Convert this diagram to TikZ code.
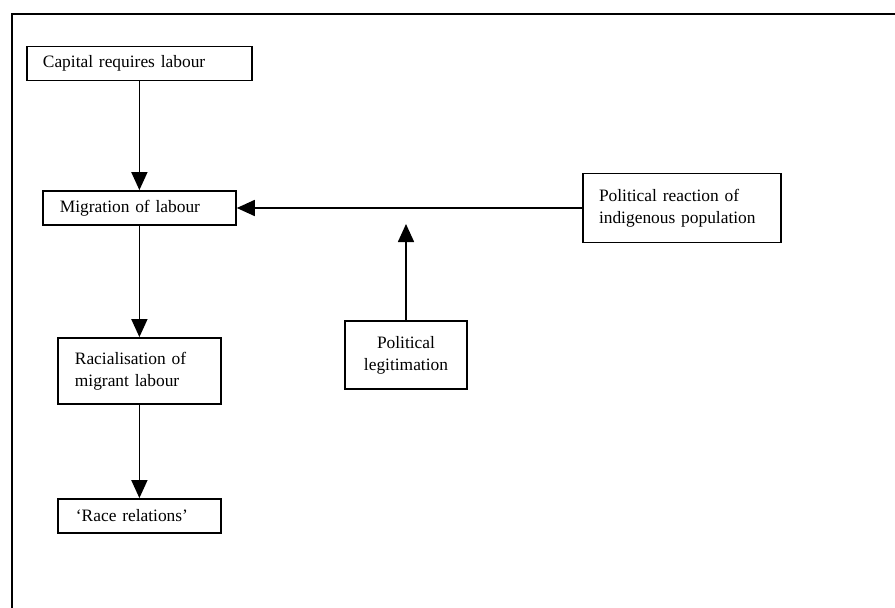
\documentclass[tikz,border=0pt]{standalone}
\usepackage{fontspec}
\setmainfont{Liberation Serif}
\usetikzlibrary{arrows.meta}
\begin{document}
\begin{tikzpicture}[x=1pt,y=-1pt,
  box/.style={draw, line width=1.8pt, rectangle, inner ysep=0pt,
    font=\fontsize{17.4}{22}\selectfont},
  lbox/.style={box, align=left},
  flow/.style={line width=1.6pt, -{Triangle[length=18pt,width=16pt]}}]
\useasboundingbox (0,0) rectangle (895,608);
% page frame: top and left edges only
\draw[line width=2pt] (895,14) -- (11.5,14) -- (11.5,608);

% boxes
\node[lbox, text width=193pt, inner xsep=16pt, minimum height=34pt] (cap) at (139.4,63.5) {Capital requires labour};
\node[lbox, text width=159pt, inner xsep=17pt, minimum height=34pt] (mig) at (139.4,208) {Migration of labour};
\node[lbox, text width=129pt, inner xsep=17pt, minimum height=66pt] (rac) at (139.4,371) {Racialisation of\\migrant labour};
\node[lbox, text width=127pt, inner xsep=18pt, minimum height=34pt] (race) at (139.4,516) {‘Race relations’};
\node[lbox, text width=166pt, inner xsep=16pt, minimum height=69pt] (pol) at (682,208) {Political reaction of\\indigenous population};
\node[box, align=center, minimum width=122pt, minimum height=68pt] (leg) at (406,355) {Political\\legitimation};

% connectors
\coordinate (legtip) at (406,224);
\draw[flow] (cap) -- (mig);
\draw[flow] (mig) -- (rac);
\draw[flow] (rac) -- (race);
\draw[flow] (pol.west) -- (mig.east);
\draw[flow] (leg.north) -- (legtip);
\end{tikzpicture}
\end{document}
